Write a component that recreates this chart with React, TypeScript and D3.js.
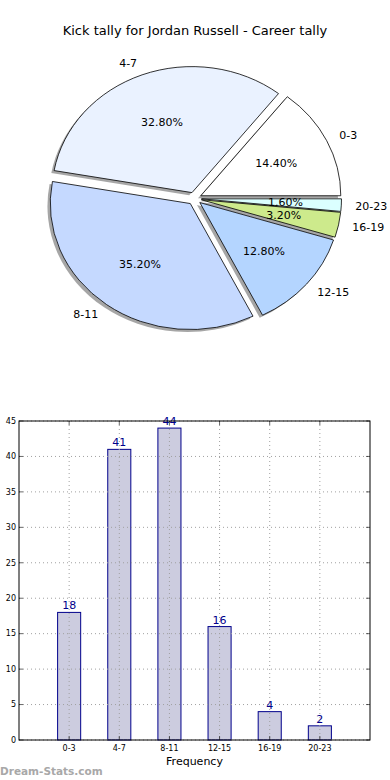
import { useEffect, useRef } from 'react'
import * as d3 from 'd3'

const categories = ['0-3', '4-7', '8-11', '12-15', '16-19', '20-23']
const counts = [18, 41, 44, 16, 4, 2]
const sliceColours = ['#ffffff', '#eaf2ff', '#c5d9ff', '#b4d5ff', '#cdea8c', '#dbffff']
const yTicks = [0, 5, 10, 15, 20, 25, 30, 35, 40, 45]
const title = 'Kick tally for Jordan Russell - Career tally'

const W = 390
const H = 780
const FONT = 'DejaVu Sans, sans-serif'

function App() {
  const svgRef = useRef<SVGSVGElement | null>(null)

  useEffect(() => {
    const svg = d3.select(svgRef.current)
    svg.selectAll('*').remove()

    svg.append('rect').attr('width', W).attr('height', H).attr('fill', '#fff')

    svg.append('text')
      .attr('x', 195).attr('y', 35)
      .attr('text-anchor', 'middle')
      .attr('font-family', FONT).attr('font-size', 13)
      .text(title)

    // ── Pie (matplotlib style: CCW from 3 o'clock, not equal aspect) ──
    const cx = 194.5
    const cy = 198.5
    const rx = 140
    const ry = 126
    const explode = 0.05
    const total = d3.sum(counts)

    const pie = d3.pie<number>().sort(null)(counts)
    const arc = d3.arc<any>().innerRadius(0).outerRadius(1)

    const pieG = svg.append('g')

    const wedges = pie.map((p, i) => {
      const mid = (p.startAngle + p.endAngle) / 2
      const ox = explode * Math.cos(mid)
      const oy = -explode * Math.sin(mid)
      const d = arc({ startAngle: Math.PI / 2 - p.endAngle, endAngle: Math.PI / 2 - p.startAngle })
      return { i, mid, ox, oy, d }
    })

    // shadows first
    wedges.forEach(w => {
      pieG.append('path')
        .attr('d', w.d)
        .attr('transform', `translate(${cx + (w.ox - 0.02) * rx},${cy + (w.oy + 0.02) * ry}) scale(${rx},${ry})`)
        .attr('fill', '#4d4d4d')
        .attr('fill-opacity', 0.5)
    })

    wedges.forEach(w => {
      pieG.append('path')
        .attr('d', w.d)
        .attr('transform', `translate(${cx + w.ox * rx},${cy + w.oy * ry}) scale(${rx},${ry})`)
        .attr('fill', sliceColours[w.i])
        .attr('stroke', '#000')
        .attr('stroke-width', 0.8)
        .attr('vector-effect', 'non-scaling-stroke')
        .attr('stroke-linejoin', 'miter')
    })

    wedges.forEach(w => {
      const bx = cx + w.ox * rx
      const by = cy + w.oy * ry
      const c = Math.cos(w.mid)
      const s = Math.sin(w.mid)
      const lx = bx + 1.1 * rx * c
      const ly = by - 1.1 * ry * s
      pieG.append('text')
        .attr('x', lx).attr('y', ly)
        .attr('dy', '0.35em')
        .attr('text-anchor', c > 0 ? 'start' : 'end')
        .attr('font-family', FONT).attr('font-size', 11)
        .text(categories[w.i])

      pieG.append('text')
        .attr('x', bx + 0.6 * rx * c).attr('y', by - 0.6 * ry * s)
        .attr('dy', '0.35em')
        .attr('text-anchor', 'middle')
        .attr('font-family', FONT).attr('font-size', 11)
        .text(`${((counts[w.i] / total) * 100).toFixed(2)}%`)
    })

    // ── Bar chart ──
    const left = 19
    const right = 370
    const top = 421
    const bottom = 740

    const x = d3.scaleLinear().domain([-1, 6]).range([left, right])
    const y = d3.scaleLinear().domain([0, 45]).range([bottom, top])
    const barW = x(0.46) - x(0)

    const barG = svg.append('g')

    barG.selectAll('rect.bar')
      .data(counts)
      .join('rect')
      .attr('class', 'bar')
      .attr('x', (_, i) => x(i) - barW / 2)
      .attr('y', d => y(d))
      .attr('width', barW)
      .attr('height', d => y(0) - y(d))
      .attr('fill', '#ccccdf')
      .attr('stroke', '#00008b')
      .attr('stroke-width', 1)

    // grid (on top of bars)
    const grid = barG.append('g')
      .attr('stroke', '#a0a0a0')
      .attr('stroke-width', 1)
      .attr('stroke-dasharray', '1,3')
    yTicks.forEach(t => {
      grid.append('line')
        .attr('x1', left).attr('x2', right)
        .attr('y1', y(t)).attr('y2', y(t))
    })
    categories.forEach((_, i) => {
      grid.append('line')
        .attr('x1', x(i)).attr('x2', x(i))
        .attr('y1', top).attr('y2', bottom)
    })

    barG.selectAll('text.val')
      .data(counts)
      .join('text')
      .attr('class', 'val')
      .attr('x', (_, i) => x(i))
      .attr('y', d => y(d) - 3)
      .attr('text-anchor', 'middle')
      .attr('font-family', FONT).attr('font-size', 11)
      .attr('fill', '#00008b')
      .text(d => d)

    // frame
    barG.append('rect')
      .attr('x', left).attr('y', top)
      .attr('width', right - left).attr('height', bottom - top)
      .attr('fill', 'none').attr('stroke', '#000').attr('stroke-width', 1)

    // ticks (inside, all four sides)
    const ticks = barG.append('g').attr('stroke', '#000').attr('stroke-width', 0.6)
    yTicks.forEach(t => {
      ticks.append('line').attr('x1', left).attr('x2', left + 4).attr('y1', y(t)).attr('y2', y(t))
      ticks.append('line').attr('x1', right - 4).attr('x2', right).attr('y1', y(t)).attr('y2', y(t))
      barG.append('text')
        .attr('x', left - 3).attr('y', y(t))
        .attr('dy', '0.35em')
        .attr('text-anchor', 'end')
        .attr('font-family', FONT).attr('font-size', 8)
        .text(t)
    })
    categories.forEach((c, i) => {
      ticks.append('line').attr('x1', x(i)).attr('x2', x(i)).attr('y1', bottom).attr('y2', bottom - 4)
      ticks.append('line').attr('x1', x(i)).attr('x2', x(i)).attr('y1', top).attr('y2', top + 4)
      barG.append('text')
        .attr('x', x(i)).attr('y', bottom + 11)
        .attr('text-anchor', 'middle')
        .attr('font-family', FONT).attr('font-size', 8)
        .text(c)
    })

    barG.append('text')
      .attr('x', (left + right) / 2).attr('y', 765)
      .attr('text-anchor', 'middle')
      .attr('font-family', FONT).attr('font-size', 11)
      .text('Frequency')

    svg.append('text')
      .attr('x', 0).attr('y', 775)
      .attr('font-family', FONT).attr('font-size', 10.5)
      .attr('font-weight', 'bold')
      .attr('fill', '#a8a8a8')
      .text('Dream-Stats.com')
  }, [])

  return (
    <svg
      ref={svgRef}
      width={W}
      height={H}
      style={{ position: 'absolute', left: 0, top: 0, display: 'block' }}
    />
  )
}

export default App
